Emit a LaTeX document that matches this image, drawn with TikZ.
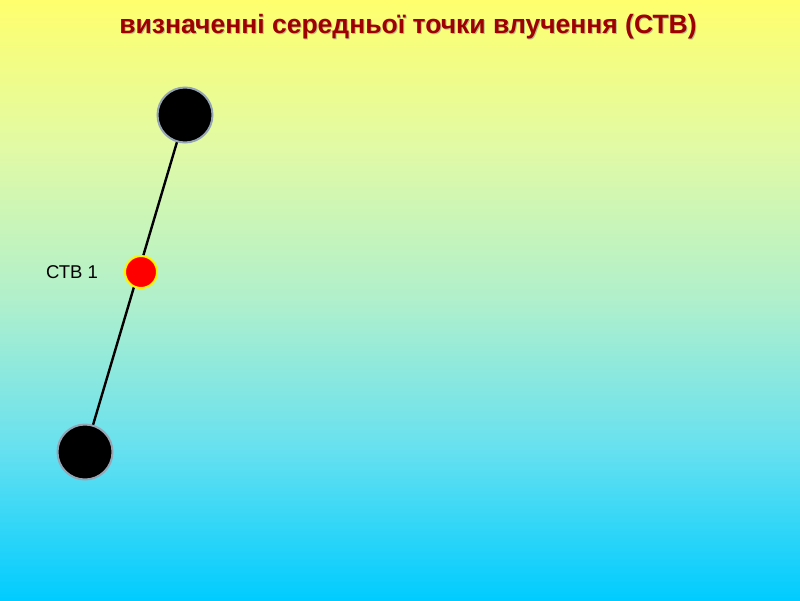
\documentclass[tikz,border=0pt]{standalone}
\usepackage{fontspec}
\setmainfont{Liberation Sans}
\pgfdeclareverticalshading{bgshade}{100bp}{%
  rgb(0bp)=(0,0.80,1);
  rgb(25bp)=(0,0.80,1);
  rgb(37.5bp)=(0.40,0.88,0.94);
  rgb(50bp)=(0.69,0.94,0.80);
  rgb(62.5bp)=(0.88,0.98,0.65);
  rgb(75bp)=(1,1,0.43);
  rgb(100bp)=(1,1,0.43)}
\begin{document}
\begin{tikzpicture}[x=1pt,y=-1pt,
  shot/.style={circle,fill=black,draw={rgb,255:red,150;green,165;blue,180},line width=2pt,minimum size=55pt,inner sep=0pt},
  stv/.style={circle,fill=red,draw=yellow,line width=2pt,minimum size=32pt,inner sep=0pt},
  link/.style={line width=2.4pt,draw=black},
  titletext/.style={font=\bfseries\fontsize{26.5}{31}\selectfont,text=red!62!black},
  lbl/.style={font=\fontsize{18.5}{22}\selectfont,text=black}]
\shade[shading=bgshade] (0,0) rectangle (800,600);
\useasboundingbox (0,0) rectangle (800,600);
\node[titletext,text=black!45,opacity=0.6] at (409,27.5) {визначенні середньої точки влучення (СТВ)};
\node[titletext] (title) at (408,26.5) {визначенні середньої точки влучення (СТВ)};
\coordinate (ta) at (185,115);
\coordinate (tb) at (85,452);
\draw[link] (ta) -- (tb);
\node[shot] (a) at (ta) {};
\node[shot] (b) at (tb) {};
\node[stv] (m) at (141,272) {};
\node[lbl] (l) at (72,272) {СТВ 1};
\end{tikzpicture}
\end{document}
